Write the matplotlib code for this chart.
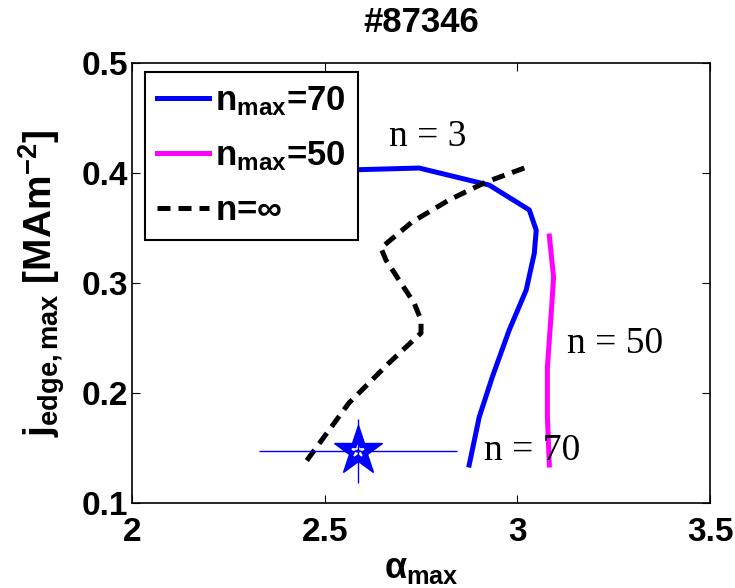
import matplotlib
matplotlib.use('Agg')
import matplotlib.pyplot as plt
from matplotlib.ticker import FormatStrFormatter

plt.rcParams['font.family'] = ['Liberation Sans', 'DejaVu Sans']
plt.rcParams['font.weight'] = 'bold'
plt.rcParams['axes.labelweight'] = 'bold'
plt.rcParams['mathtext.fontset'] = 'custom'
plt.rcParams['mathtext.rm'] = 'Liberation Sans:bold'
plt.rcParams['mathtext.bf'] = 'Liberation Sans:bold'
plt.rcParams['mathtext.it'] = 'Liberation Sans:bold'

# n_max = 70 stability boundary
a70 = [2.45, 2.56, 2.745, 2.927, 3.031, 3.049, 3.044, 3.023, 2.979, 2.935, 2.901, 2.875]
j70 = [0.401, 0.4027, 0.4045, 0.389, 0.3664, 0.348, 0.327, 0.2936, 0.2573, 0.2145, 0.178, 0.1345]

# n_max = 50 stability boundary
a50 = [3.083, 3.094, 3.089, 3.078, 3.078, 3.083]
j50 = [0.3427, 0.3055, 0.278, 0.2236, 0.178, 0.1345]

# n = infinity
ainf = [3.018, 2.919, 2.823, 2.727, 2.646, 2.659, 2.732, 2.75, 2.75, 2.667, 2.563, 2.445]
jinf = [0.4045, 0.3918, 0.3755, 0.3555, 0.3318, 0.3209, 0.2818, 0.2664, 0.2545, 0.2273, 0.1909, 0.1345]

# experimental point
a_exp, j_exp = 2.586, 0.1473
a_err, j_err = 0.257, 0.029

fig = plt.figure(figsize=(7.35, 5.88), dpi=100)
ax = fig.add_axes([0.1796, 0.1446, 0.7864, 0.7483])

ax.plot(a70, j70, color='blue', lw=3.6, label=r'n$_{\mathrm{max}}$=70')
ax.plot(a50, j50, color='magenta', lw=3.6, label=r'n$_{\mathrm{max}}$=50')
ax.plot(ainf, jinf, color='black', lw=3.6, linestyle=(0, (2.6, 1.6)), label=r'n=$\infty$')

ax.plot(a_exp, j_exp, marker='*', ms=37, color='blue', mec='blue', ls='none')
ax.plot(a_exp, j_exp, marker='*', ms=9, mfc='none', mec='white', mew=1.2, ls='none')
ax.errorbar(a_exp, j_exp, xerr=a_err, yerr=j_err, fmt='none', ecolor='blue', elinewidth=1, capsize=0)

ax.text(2.667, 0.4245, 'n = 3', family='Liberation Serif', weight='normal', fontsize=27)
ax.text(3.128, 0.2364, 'n = 50', family='Liberation Serif', weight='normal', fontsize=27)
ax.text(2.914, 0.139, 'n = 70', family='Liberation Serif', weight='normal', fontsize=27)

ax.set_xlim(2, 3.5)
ax.set_ylim(0.1, 0.5)
ax.set_xticks([2, 2.5, 3, 3.5])
ax.set_yticks([0.1, 0.2, 0.3, 0.4, 0.5])
ax.xaxis.set_major_formatter(FormatStrFormatter('%g'))
ax.yaxis.set_major_formatter(FormatStrFormatter('%g'))
ax.tick_params(direction='in', top=True, right=True, labelsize=24, length=6, width=0.8)
ax.tick_params(axis='x', pad=10)
ax.tick_params(axis='y', pad=3)
for s in ax.spines.values():
    s.set_linewidth(1.2)

ax.set_xlabel(r'$\alpha_{\mathrm{max}}$', fontsize=26, labelpad=2)
ax.set_ylabel(r'j$_{\mathrm{edge,max}}$ [MAm$^{\mathrm{-2}}$]', fontsize=28, labelpad=10)
ax.set_title('#87346', fontsize=25, fontweight='bold', pad=22)

leg = ax.legend(loc='upper left', fontsize=25, frameon=True, fancybox=False, framealpha=1,
                edgecolor='black', handlelength=1.5, handletextpad=0.17, borderpad=0.35,
                borderaxespad=0, labelspacing=0.62, bbox_to_anchor=(0.022, 0.98))
leg.get_frame().set_linewidth(1.5)

fig.savefig('out.png', dpi=100)
